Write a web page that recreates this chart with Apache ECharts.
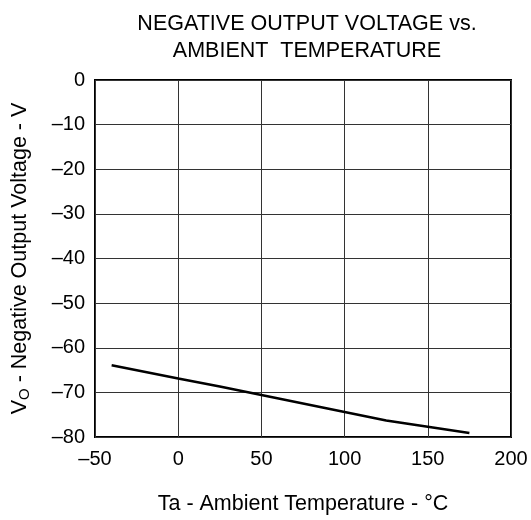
<!DOCTYPE html>
<html>
<head>
<meta charset="utf-8">
<script src="https://cdn.jsdelivr.net/npm/echarts@6/dist/echarts.min.js"></script>
<style>
  html, body { margin: 0; padding: 0; background: #fff; }
  #chart { width: 531px; height: 520px; }
</style>
</head>
<body>
<div id="chart"></div>
<script>
// temperature (°C) and negative output voltage (V)
const temps = [-40, 0, 25, 50, 100, 125, 150, 175]
const volts = [-63.9, -66.9, -68.7, -70.6, -74.4, -76.3, -77.7, -79.1]

const titleLines = ['NEGATIVE OUTPUT VOLTAGE vs.', 'AMBIENT  TEMPERATURE']
const xName = 'Ta - Ambient Temperature - °C'

const dash = v => String(v).replace('-', '\u2013')
const font = 'Liberation Sans, Arial, sans-serif'

const myChart = echarts.init(document.getElementById('chart'))

myChart.setOption({
  animation: false,
  title: {
    text: titleLines.join('\n'),
    left: 302,
    textAlign: 'center',
    top: 6,
    textStyle: {
      fontFamily: font,
      fontSize: 21.5,
      fontWeight: 'normal',
      color: '#000',
      lineHeight: 27
    }
  },
  grid: {
    left: 95,
    right: 20,
    top: 80,
    bottom: 79,
    show: true,
    borderColor: '#000',
    borderWidth: 2
  },
  xAxis: {
    type: 'value',
    min: -50,
    max: 200,
    interval: 50,
    name: xName,
    nameLocation: 'middle',
    nameGap: 56,
    nameTextStyle: { fontFamily: font, fontSize: 21.5, color: '#000' },
    axisLine: { show: false },
    axisTick: { show: false },
    axisLabel: {
      formatter: dash,
      fontFamily: font,
      fontSize: 20,
      color: '#000',
      margin: 12
    },
    splitLine: { lineStyle: { color: '#333', width: 1 } }
  },
  yAxis: {
    type: 'value',
    min: -80,
    max: 0,
    interval: 10,
    name: '{a|V}{b|O}{a| - Negative Output Voltage - V}',
    nameLocation: 'middle',
    nameGap: 63,
    nameTextStyle: {
      rich: {
        a: { fontFamily: font, fontSize: 21.5, color: '#000' },
        b: { fontFamily: font, fontSize: 15, color: '#000', padding: [9, 0, 0, 0] }
      }
    },
    axisLine: { show: false },
    axisTick: { show: false },
    axisLabel: {
      formatter: dash,
      fontFamily: font,
      fontSize: 20,
      color: '#000',
      margin: 10
    },
    splitLine: { lineStyle: { color: '#333', width: 1 } }
  },
  series: [
    {
      type: 'line',
      data: temps.map((t, i) => [t, volts[i]]),
      symbol: 'none',
      lineStyle: { color: '#000', width: 2.5 }
    }
  ]
})
</script>
</body>
</html>
